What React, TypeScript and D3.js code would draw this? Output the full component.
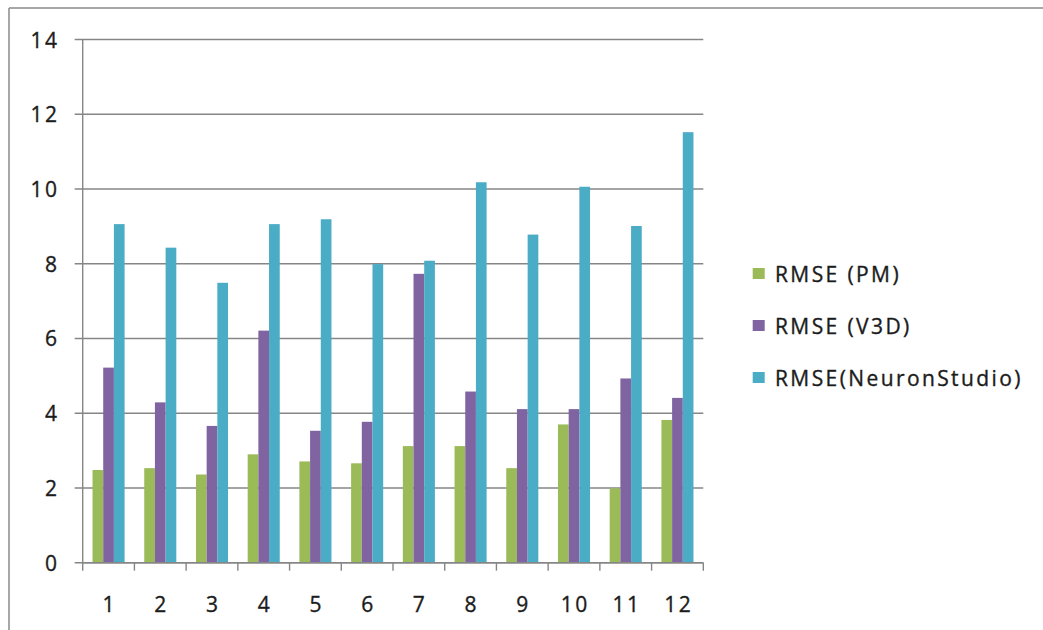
import React from "react";
import * as d3 from "d3";

const categories = ["1", "2", "3", "4", "5", "6", "7", "8", "9", "10", "11", "12"];
const seriesNames = ["RMSE (PM)", "RMSE (V3D)", "RMSE(NeuronStudio)"];
const pmValues = [2.48, 2.53, 2.36, 2.9, 2.71, 2.66, 3.12, 3.12, 2.53, 3.7, 1.99, 3.82];
const v3dValues = [5.22, 4.29, 3.66, 6.21, 3.53, 3.77, 7.73, 4.58, 4.11, 4.11, 4.93, 4.41];
const nsValues = [9.06, 8.43, 7.49, 9.06, 9.19, 7.99, 8.08, 10.18, 8.78, 10.06, 9.01, 11.52];
const yTicks = [0, 2, 4, 6, 8, 10, 12, 14];
const colors = ["#9BBB59", "#8064A2", "#4BACC6"];

const W = 1043;
const H = 630;
const plot = { left: 82.7, right: 703.3, top: 39.5, bottom: 562.7 };
const FONT = "'Open Sans', 'DejaVu Sans', sans-serif";
const FS = 21;
const LS = 2.4;

export default function App() {
  const series = [pmValues, v3dValues, nsValues];
  const x = d3.scaleBand<string>().domain(categories).range([plot.left, plot.right]).padding(0);
  const groupW = x.bandwidth() * 0.62;
  const inner = d3
    .scaleBand<number>()
    .domain([0, 1, 2])
    .range([(x.bandwidth() - groupW) / 2, (x.bandwidth() + groupW) / 2])
    .padding(0);
  const y = d3.scaleLinear().domain([0, 14]).range([plot.bottom, plot.top]);
  const gridColor = "#868686";
  const textColor = "#1c1c1c";
  const textProps = {
    fontSize: FS,
    letterSpacing: LS,
    fill: textColor,
    stroke: textColor,
    strokeWidth: 0.35,
  };

  const boundaries = [...categories.map((c) => x(c) as number), plot.right];

  return (
    <svg
      width={W}
      height={H}
      style={{ position: "absolute", left: 0, top: 0, background: "#fff" }}
      fontFamily={FONT}
    >
      <rect x={0} y={0} width={W} height={H} fill="#fff" />
      {/* outer border */}
      <line x1={9} y1={8} x2={W} y2={8} stroke="#8a8a8a" strokeWidth={1.5} />
      <line x1={9} y1={8} x2={9} y2={H} stroke="#8a8a8a" strokeWidth={1.5} />

      {/* gridlines & y ticks */}
      {yTicks.map((t) => (
        <g key={t}>
          <line x1={plot.left - 8} x2={plot.right} y1={y(t)} y2={y(t)} stroke={gridColor} strokeWidth={1.4} />
          <text x={57 + LS} y={y(t)} textAnchor="end" dominantBaseline="central" {...textProps}>
            {t}
          </text>
        </g>
      ))}

      {/* bars */}
      {series.map((vals, si) =>
        vals.map((v, ci) => (
          <rect
            key={`${si}-${ci}`}
            x={(x(categories[ci]) as number) + (inner(si) as number)}
            width={inner.bandwidth()}
            y={y(v)}
            height={y(0) - y(v)}
            fill={colors[si]}
          />
        ))
      )}

      {/* y axis */}
      <line x1={plot.left} x2={plot.left} y1={plot.top} y2={plot.bottom} stroke={gridColor} strokeWidth={1.4} />
      {/* x axis */}
      <line x1={plot.left} x2={plot.right} y1={plot.bottom} y2={plot.bottom} stroke={gridColor} strokeWidth={1.4} />
      {boundaries.map((b, i) => (
        <line key={i} x1={b} x2={b} y1={plot.bottom} y2={plot.bottom + 8} stroke={gridColor} strokeWidth={1.4} />
      ))}
      {categories.map((c) => (
        <text
          key={c}
          x={(x(c) as number) + x.bandwidth() / 2 + LS / 2}
          y={604}
          textAnchor="middle"
          dominantBaseline="central"
          {...textProps}
        >
          {c}
        </text>
      ))}

      {/* legend */}
      {seriesNames.map((name, i) => {
        const cy = 273.5 + i * 52;
        return (
          <g key={name}>
            <rect x={752.7} y={cy - 5.5} width={12} height={11} fill={colors[i]} />
            <text x={775} y={cy} dominantBaseline="central" {...textProps}>
              {name}
            </text>
          </g>
        );
      })}
    </svg>
  );
}
